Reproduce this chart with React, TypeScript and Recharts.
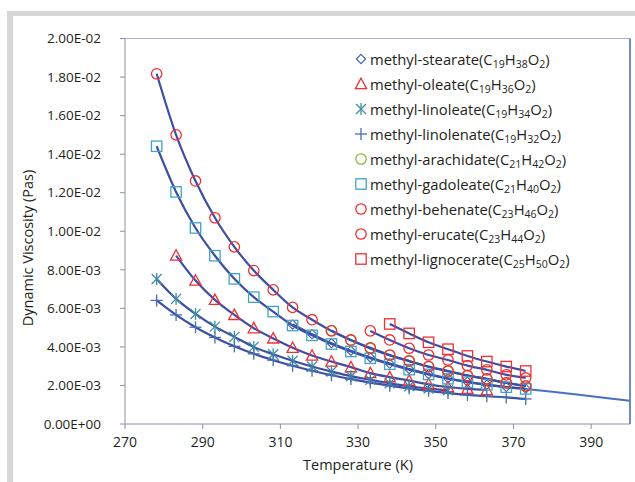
import React from 'react';
import { ComposedChart, Line, Scatter, XAxis, YAxis, ReferenceLine } from 'recharts';

const temps = [278.15, 283.15, 288.15, 293.15, 298.15, 303.15, 308.15, 313.15, 318.15, 323.15,
  328.15, 333.15, 338.15, 343.15, 348.15, 353.15, 358.15, 363.15, 368.15, 373.15];

const stearate = [null, null, null, null, null, null, null, 0.00516, 0.00466, 0.00419,
  0.00380, 0.00345, 0.00313, 0.00285, 0.00259, 0.00237, 0.00219, 0.00204, 0.00192, 0.00183];
const oleate = [null, 0.00874, 0.00744, 0.00644, 0.00566, 0.00497, 0.00444, 0.00395, 0.00355, 0.00324,
  0.00295, 0.00264, 0.00243, 0.00225, 0.00206, 0.00192, 0.00182, 0.00176, null, null];
const linoleate = [0.00752, 0.00649, 0.00571, 0.00505, 0.00452, 0.00400, 0.00362, 0.00328, 0.00298, 0.00272,
  0.00248, 0.00229, 0.00211, 0.00196, 0.00184, 0.00175, null, null, null, null];
const linolenate = [0.00641, 0.00566, 0.00502, 0.00449, 0.00403, 0.00364, 0.00331, 0.00302, 0.00276, 0.00253,
  0.00233, 0.00215, 0.00199, 0.00185, 0.00172, 0.00161, 0.00151, 0.00144, 0.00138, 0.00130];
const arachidate = [null, null, null, null, null, null, null, null, null, 0.00485,
  0.00434, 0.00392, 0.00356, 0.00326, 0.00297, 0.00274, 0.00252, 0.00233, 0.00214, 0.00198];
const gadoleate = [0.01441, 0.01204, 0.01017, 0.00873, 0.00753, 0.00658, 0.00583, 0.00511, 0.00460, 0.00415,
  0.00376, 0.00341, 0.00310, 0.00282, 0.00257, 0.00235, 0.00217, 0.00203, 0.00191, 0.00182];
const behenate = [null, null, null, null, null, null, null, null, null, null,
  null, 0.00483, 0.00436, 0.00393, 0.00358, 0.00332, 0.00303, 0.00281, 0.00255, 0.00239];
const erucate = [0.01817, 0.01500, 0.01261, 0.01070, 0.00919, 0.00796, 0.00696, 0.00605, 0.00541, 0.00483,
  0.00436, 0.00395, 0.00358, 0.00327, 0.00298, 0.00275, 0.00251, 0.00234, 0.00213, 0.00197];
const lignocerate = [null, null, null, null, null, null, null, null, null, null,
  null, null, 0.00519, 0.00470, 0.00424, 0.00388, 0.00353, 0.00324, 0.00298, 0.00275];

const extensionT = [373.15, 380, 390, 400];
const extensionV = [0.00182, 0.00167, 0.00144, 0.00121];

const xTicks = [270, 290, 310, 330, 350, 370, 390];
const yTicks = [0, 0.002, 0.004, 0.006, 0.008, 0.01, 0.012, 0.014, 0.016, 0.018, 0.02];

const seriesNames = ['methyl-stearate', 'methyl-oleate', 'methyl-linoleate', 'methyl-linolenate',
  'methyl-arachidate', 'methyl-gadoleate', 'methyl-behenate', 'methyl-erucate', 'methyl-lignocerate'];
const formulas = ['C19H38O2', 'C19H36O2', 'C19H34O2', 'C19H32O2', 'C21H42O2', 'C21H40O2', 'C23H46O2', 'C23H44O2', 'C25H50O2'];
const seriesValues = [stearate, oleate, linoleate, linolenate, arachidate, gadoleate, behenate, erucate, lignocerate];
const shapes = ['diamond', 'triangle', 'asterisk', 'plus', 'circle', 'square', 'circle', 'circle', 'square'];
const colors = ['#3a5fb0', '#ee2f34', '#3c8ea3', '#4a6db0', '#8db43e', '#43a3c4', '#ee2f34', '#ee2f34', '#ee2f34'];

const FONT = "'Open Sans', 'Noto Sans', sans-serif";
const TEXT = '#231f20';
const LINE = '#3d4fa5';
const AXIS = '#8a8fae';

const toRows = (vals: (number | null)[]) =>
  temps.map((t, i) => ({ t, v: vals[i] })).filter((r) => r.v != null);

const extRows = extensionT.map((t, i) => ({ t, v: extensionV[i] }));

function MarkerShape({ shape, color, cx, cy }: { shape: string; color: string; cx: number; cy: number }) {
  if (cx == null || cy == null || isNaN(cx) || isNaN(cy)) return <g />;
  const sw = 1.3;
  switch (shape) {
    case 'circle':
      return <circle cx={cx} cy={cy} r={5.2} fill="none" stroke={color} strokeWidth={sw} />;
    case 'square':
      return <rect x={cx - 5.2} y={cy - 5.2} width={10.4} height={10.4} fill="none" stroke={color} strokeWidth={sw} />;
    case 'triangle':
      return <polygon points={`${cx},${cy - 5.8} ${cx + 5.6},${cy + 4.6} ${cx - 5.6},${cy + 4.6}`} fill="none" stroke={color} strokeWidth={sw} />;
    case 'diamond':
      return <polygon points={`${cx},${cy - 4.6} ${cx + 4.6},${cy} ${cx},${cy + 4.6} ${cx - 4.6},${cy}`} fill="none" stroke={color} strokeWidth={1.1} />;
    case 'asterisk':
      return (
        <g stroke={color} strokeWidth={sw}>
          <line x1={cx - 5} y1={cy - 5} x2={cx + 5} y2={cy + 5} />
          <line x1={cx - 5} y1={cy + 5} x2={cx + 5} y2={cy - 5} />
          <line x1={cx} y1={cy - 6} x2={cx} y2={cy + 6} />
        </g>
      );
    case 'plus':
      return (
        <g stroke={color} strokeWidth={sw}>
          <line x1={cx - 6} y1={cy} x2={cx + 6} y2={cy} />
          <line x1={cx} y1={cy - 6} x2={cx} y2={cy + 6} />
        </g>
      );
    default:
      return <g />;
  }
}

const fmtSci = (v: number) => {
  const [m, e] = v.toExponential(2).split('e');
  const sign = e[0] === '-' ? '-' : '+';
  const digits = e.replace(/[+-]/, '').padStart(2, '0');
  return `${m}E${sign}${digits}`;
};

function Formula({ f }: { f: string }) {
  const parts: React.ReactNode[] = [];
  const re = /([A-Z][a-z]?)(\d*)/g;
  let m: RegExpExecArray | null;
  let k = 0;
  while ((m = re.exec(f)) !== null) {
    if (!m[0]) break;
    parts.push(<span key={k++}>{m[1]}</span>);
    if (m[2]) parts.push(<span key={k++} style={{ fontSize: 10.5, position: 'relative', top: 3 }}>{m[2]}</span>);
  }
  return <>{parts}</>;
}

export default function App() {
  return (
    <div style={{ position: 'absolute', left: 0, top: 0, width: 635, height: 482, background: '#fff', fontFamily: FONT }}>
      <div style={{ position: 'absolute', left: 7, top: 11, width: 628, height: 5, background: '#d6d6d6' }} />
      <div style={{ position: 'absolute', left: 7, top: 11, width: 6, height: 471, background: '#d6d6d6' }} />
      <ComposedChart width={635} height={482} margin={{ top: 38.5, right: 5, bottom: 28, left: 0 }} style={{ position: 'absolute', left: 0, top: 0 }}>
        <XAxis
          dataKey="t"
          type="number"
          domain={[270, 400]}
          ticks={xTicks}
          allowDataOverflow
          height={30}
          tickSize={5}
          tickMargin={8}
          stroke={AXIS}
          tick={{ fill: TEXT, fontSize: 14, fontFamily: FONT }}
          label={{
            content: () => (
              <text x={358} y={470} textAnchor="middle" fill={TEXT} fontSize={14.5} fontFamily={FONT}>Temperature (K)</text>
            ),
          }}
        />
        <YAxis
          type="number"
          domain={[0, 0.02]}
          ticks={yTicks}
          allowDataOverflow
          width={125}
          tickSize={5}
          tickMargin={19}
          stroke={AXIS}
          tickFormatter={fmtSci}
          tick={{ fill: TEXT, fontSize: 13.5, fontFamily: FONT }}
          label={{
            content: () => (
              <text x={33} y={248} transform="rotate(-90 33 248)" textAnchor="middle" fill={TEXT} fontSize={14.5} fontFamily={FONT}>Dynamic Viscosity (Pas)</text>
            ),
          }}
        />
        <ReferenceLine y={0.02} stroke="#aab0cc" strokeWidth={1} ifOverflow="visible" />
        <ReferenceLine x={400} stroke="#4264b2" strokeWidth={1.5} ifOverflow="visible" />
        {seriesValues.map((vals, i) => (
          <Line
            key={'l' + i}
            data={toRows(vals)}
            dataKey="v"
            type="monotone"
            stroke={LINE}
            strokeWidth={2.2}
            dot={false}
            activeDot={false}
            isAnimationActive={false}
          />
        ))}
        <Line
          data={extRows}
          dataKey="v"
          type="monotone"
          stroke="#4a70c0"
          strokeWidth={2}
          dot={false}
          activeDot={false}
          isAnimationActive={false}
        />
        {seriesValues.map((vals, i) => (
          <Scatter
            key={'s' + i}
            data={toRows(vals)}
            dataKey="v"
            isAnimationActive={false}
            shape={(p: any) => <MarkerShape shape={shapes[i]} color={colors[i]} cx={p.cx} cy={p.cy} />}
          />
        ))}
      </ComposedChart>
      <div style={{ position: 'absolute', left: 353, top: 46, fontFamily: FONT, fontSize: 14.8, color: TEXT }}>
        {seriesNames.map((n, i) => (
          <div key={n} style={{ height: 25, display: 'flex', alignItems: 'center', whiteSpace: 'nowrap' }}>
            <svg width={16} height={16} style={{ flex: 'none' }}>
              <MarkerShape shape={shapes[i]} color={colors[i]} cx={8} cy={8} />
            </svg>
            <span style={{ marginLeft: 1 }}>
              {n}(<Formula f={formulas[i]} />)
            </span>
          </div>
        ))}
      </div>
    </div>
  );
}
